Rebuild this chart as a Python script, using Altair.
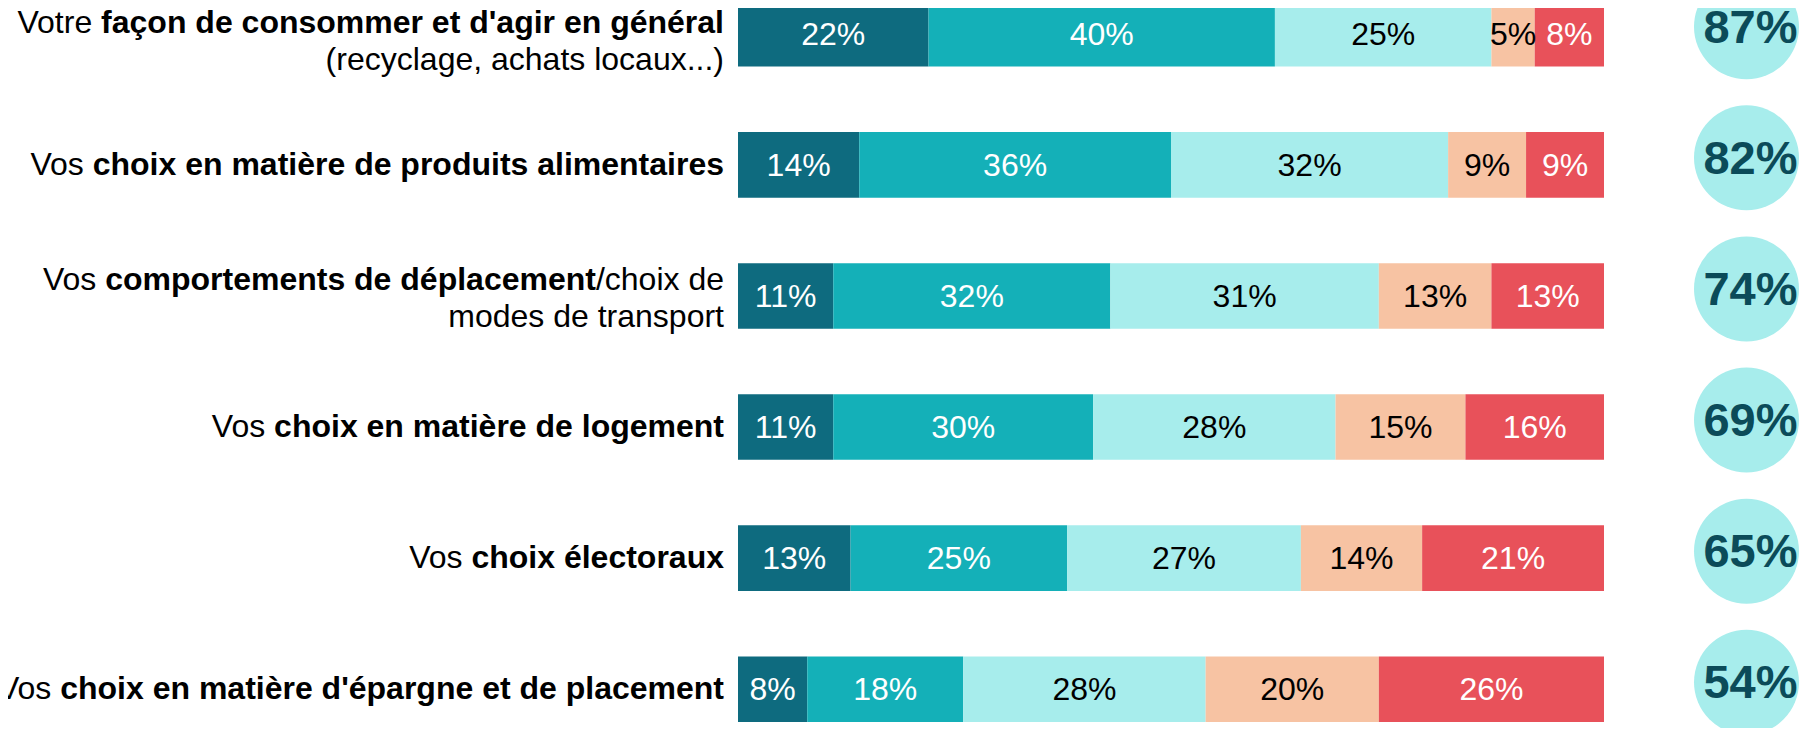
import altair as alt
import pandas as pd
import math

# ---------------- data ----------------
row_keys = ["r1", "r2", "r3", "r4", "r5", "r6"]

# label pieces per row: list of lines, each line = list of (text, weight)
label_lines = [
    [[("Votre ", "normal"), ("façon de consommer et d'agir en général", "bold")],
     [("(recyclage, achats locaux...)", "normal")]],
    [[("Vos ", "normal"), ("choix en matière de produits alimentaires", "bold")]],
    [[("Vos ", "normal"), ("comportements de déplacement", "bold"), ("/choix de", "normal")],
     [("modes de transport", "normal")]],
    [[("Vos ", "normal"), ("choix en matière de logement", "bold")]],
    [[("Vos ", "normal"), ("choix électoraux", "bold")]],
    [[("Vos ", "normal"), ("choix en matière d'épargne et de placement", "bold")]],
]

categories = ["Beaucoup", "Assez", "Un peu", "Peu", "Pas du tout"]
s_beaucoup = [22, 14, 11, 11, 13, 8]
s_assez = [40, 36, 32, 30, 25, 18]
s_un_peu = [25, 32, 31, 28, 27, 28]
s_peu = [5, 9, 13, 15, 14, 20]
s_pas = [8, 9, 13, 16, 21, 26]
totals = [87, 82, 74, 69, 65, 54]

# ---------------- styles / layout ----------------
FONT = "Liberation Sans"
FS = 32
bar_colors = ["#0E6B7F", "#14B0B8", "#A7EDEC", "#F7C3A3", "#E8515A"]
text_colors = ["#FFFFFF", "#FFFFFF", "#000000", "#000000", "#FFFFFF"]
CIRCLE_FILL = "#A7EDEC"
CIRCLE_TEXT = "#0B4B59"

PAD_LEFT = 730
PLOT_W = 866
PAD_RIGHT = 198
SVG_H = 720
Y_RANGE = [-7, 714]
N_ROWS = len(row_keys)
STEP = (Y_RANGE[1] - Y_RANGE[0]) / (N_ROWS - 0.5)
HALF_BAND = STEP * 0.5 / 2
LABEL_GAP = 14
CIRCLE_X = 1008.5
CIRCLE_R = 52.5
CIRCLE_DY = -7
LINE_DY = {0: [-10.5, 26.5], 2: [-15.5, 21.5]}

REG = {" ": 278, "'": 191, "(": 333, ")": 333, ",": 278, ".": 278, "/": 278,
       "V": 667, "a": 556, "b": 556, "c": 500, "d": 556, "e": 556, "f": 278,
       "g": 556, "h": 556, "i": 222, "j": 222, "k": 500, "l": 222, "m": 833,
       "n": 556, "o": 556, "p": 556, "q": 556, "r": 333, "s": 500, "t": 278,
       "u": 556, "v": 500, "w": 722, "x": 500, "y": 500, "z": 500,
       "é": 556, "è": 556, "ç": 500}
BOLD = {" ": 278, "'": 238, "(": 333, ")": 333, ",": 278, ".": 278, "/": 278,
        "V": 667, "a": 556, "b": 611, "c": 556, "d": 611, "e": 556, "f": 333,
        "g": 611, "h": 611, "i": 278, "j": 278, "k": 556, "l": 278, "m": 889,
        "n": 611, "o": 611, "p": 611, "q": 611, "r": 389, "s": 556, "t": 333,
        "u": 611, "v": 556, "w": 778, "x": 556, "y": 556, "z": 500,
        "é": 556, "è": 556, "ç": 556}


def text_w(s, weight):
    table = BOLD if weight == "bold" else REG
    return sum(table.get(ch, 556) for ch in s) * FS / 1000.0


# ---------------- tables ----------------
series = [s_beaucoup, s_assez, s_un_peu, s_peu, s_pas]
seg_records = []
for ci, (cat, vals) in enumerate(zip(categories, series)):
    for ri, v in enumerate(vals):
        seg_records.append({"row": row_keys[ri], "cat": cat, "cat_idx": ci,
                            "value": v, "label": f"{v}%"})
seg_df = pd.DataFrame(seg_records)

lab_records = []
for ri, lines in enumerate(label_lines):
    for li, pieces in enumerate(lines):
        dy = (LINE_DY[ri][li] if len(lines) > 1 else 0) + HALF_BAND
        end = -LABEL_GAP
        for text, weight in reversed(pieces):
            stripped = text.rstrip()
            trail = text[len(stripped):]
            x_end = end - text_w(trail, weight)
            lab_records.append({"row": row_keys[ri], "text": stripped, "weight": weight,
                                "xr": x_end * 100.0 / PLOT_W, "dy": dy})
            end -= text_w(text, weight)
lab_df = pd.DataFrame(lab_records)

circ_df = pd.DataFrame({"row": row_keys, "label": [f"{t}%" for t in totals]})

# ---------------- chart ----------------
yscale = alt.Scale(domain=row_keys, range=Y_RANGE, paddingInner=0.5, paddingOuter=0)
xscale = alt.Scale(domain=[0, 100], nice=False, zero=False)

base = alt.Chart(seg_df).transform_stack(
    stack="value", as_=["v0", "v1"], groupby=["row"],
    sort=[alt.SortField("cat_idx", order="ascending")]
).transform_calculate(mid="(datum.v0 + datum.v1) / 2")

bars = base.mark_bar().encode(
    x=alt.X("v0:Q", scale=xscale, axis=None),
    x2="v1:Q",
    y=alt.Y("row:N", scale=yscale, axis=None),
    color=alt.Color("cat:N", scale=alt.Scale(domain=categories, range=bar_colors), legend=None),
)

seg_text = base.mark_text(font=FONT, fontSize=FS, baseline="middle", dy=1).encode(
    x=alt.X("mid:Q", scale=xscale, axis=None),
    y=alt.Y("row:N", scale=yscale, axis=None),
    text="label:N",
    fill=alt.Fill("cat:N", scale=alt.Scale(domain=categories, range=text_colors), legend=None),
)

lab = alt.Chart(lab_df)
lab_norm = lab.transform_filter("datum.weight == 'normal'").mark_text(
    font=FONT, fontSize=FS, align="right", baseline="middle", color="#000000"
).encode(
    x=alt.X("xr:Q", scale=xscale, axis=None),
    y=alt.Y("row:N", scale=yscale, axis=None),
    yOffset=alt.YOffset("dy:Q", scale=None),
    text="text:N",
)
lab_bold = lab.transform_filter("datum.weight == 'bold'").mark_text(
    font=FONT, fontSize=FS, fontWeight="bold", align="right", baseline="middle", color="#000000"
).encode(
    x=alt.X("xr:Q", scale=xscale, axis=None),
    y=alt.Y("row:N", scale=yscale, axis=None),
    yOffset=alt.YOffset("dy:Q", scale=None),
    text="text:N",
)

circles = alt.Chart(circ_df).mark_circle(
    size=(2 * CIRCLE_R) ** 2, opacity=1, color=CIRCLE_FILL, yOffset=CIRCLE_DY
).encode(
    x=alt.value(CIRCLE_X),
    y=alt.Y("row:N", scale=yscale, axis=None),
)
circ_text = alt.Chart(circ_df).mark_text(
    font=FONT, fontSize=47, fontWeight="bold", color=CIRCLE_TEXT, baseline="middle",
    yOffset=CIRCLE_DY + 2, dx=4
).encode(
    x=alt.value(CIRCLE_X),
    y=alt.Y("row:N", scale=yscale, axis=None),
    text="label:N",
)

chart = alt.layer(bars, seg_text, lab_norm, lab_bold, circles, circ_text).resolve_scale(
    color="independent", fill="independent"
).properties(
    width=PLOT_W,
    height=SVG_H,
    padding={"left": PAD_LEFT, "right": PAD_RIGHT, "top": 0, "bottom": 0},
    autosize=alt.AutoSizeParams(type="none"),
).configure_view(stroke=None, strokeWidth=0)

chart.save("out.html", embed_options={"renderer": "svg", "actions": False})
